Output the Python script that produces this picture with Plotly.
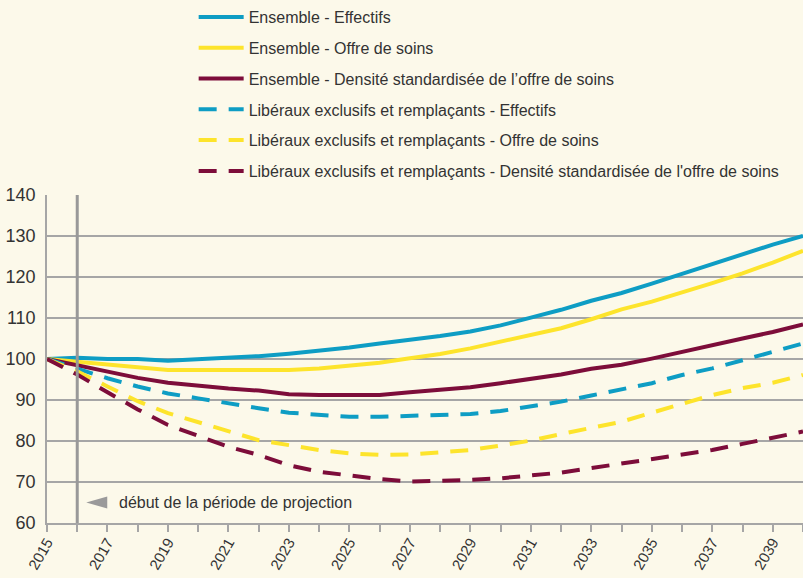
import plotly.graph_objects as go

years = list(range(2015, 2041))

ens_effectifs = [100, 100.3, 100.0, 100.0, 99.6, 99.9, 100.3, 100.7, 101.3, 102.0, 102.8, 103.8, 104.6,
                 105.6, 106.7, 108.2, 110.1, 112.0, 114.2, 116.1, 118.4, 120.8, 123.2, 125.6, 127.9, 130.0]
ens_offre = [100, 99.3, 98.5, 98.0, 97.3, 97.3, 97.3, 97.3, 97.3, 97.7, 98.3, 99.1, 100.2,
             101.2, 102.6, 104.3, 105.9, 107.5, 109.7, 112.1, 114.0, 116.2, 118.5, 120.9, 123.5, 126.4]
ens_densite = [100, 98.5, 96.9, 95.4, 94.2, 93.4, 92.8, 92.3, 91.4, 91.2, 91.2, 91.2, 91.9,
               92.5, 93.1, 94.1, 95.2, 96.2, 97.6, 98.6, 100.1, 101.8, 103.5, 105.0, 106.6, 108.4]
lib_effectifs = [100, 97.7, 95.3, 93.3, 91.6, 90.4, 89.1, 88.0, 86.9, 86.3, 85.9, 85.9, 86.1,
                 86.2, 86.6, 87.3, 88.4, 89.6, 91.1, 92.7, 94.1, 96.1, 97.7, 99.7, 101.7, 103.8]
lib_offre = [100, 97.0, 93.3, 89.7, 86.8, 84.6, 82.3, 80.2, 79.0, 77.8, 77.0, 76.6, 76.7,
             77.2, 77.8, 78.9, 80.1, 81.7, 83.3, 84.7, 86.9, 89.0, 91.2, 92.9, 94.2, 96.1]
lib_densite = [100, 96.2, 91.9, 87.7, 83.9, 81.2, 78.6, 76.6, 74.1, 72.5, 71.5, 70.7, 70.1,
               70.2, 70.5, 70.9, 71.5, 72.3, 73.4, 74.5, 75.5, 76.6, 77.8, 79.3, 80.7, 82.3]

names = [
    "Ensemble - Effectifs",
    "Ensemble - Offre de soins",
    "Ensemble - Densité standardisée de l’offre de soins",
    "Libéraux exclusifs et remplaçants - Effectifs",
    "Libéraux exclusifs et remplaçants - Offre de soins",
    "Libéraux exclusifs et remplaçants - Densité standardisée de l'offre de soins",
]
series = [ens_effectifs, ens_offre, ens_densite, lib_effectifs, lib_offre, lib_densite]
colors = ["#0e9dc4", "#fde42c", "#7d0d3a", "#0e9dc4", "#fde42c", "#7d0d3a"]
dashes = ["solid", "solid", "solid", "18px,12px", "18px,12px", "18px,12px"]

projection_start = 2016
annotation_y = 65
annotation_text = "début de la période de projection"

BG = "#fcf9ea"
GRID = "#a6a6a6"
FONT = "Liberation Sans, Arial, sans-serif"

fig = go.Figure()
for i, (n, s, c, d) in enumerate(zip(names, series, colors, dashes)):
    fig.add_trace(go.Scatter(
        x=years, y=s, name=n, mode="lines",
        line=dict(color=c, width=4, dash=d),
        legendgroup=f"g{i}",
    ))

fig.add_shape(type="line", xref="x", yref="y", x0=projection_start, x1=projection_start,
              y0=60, y1=140, line=dict(color="#999999", width=3), layer="above")

# grey arrow head pointing to the projection start line
fig.add_shape(type="path", xref="x", yref="y", xsizemode="pixel", ysizemode="pixel",
              xanchor=projection_start, yanchor=annotation_y,
              path="M 9,0 L 30,6 L 30,-6 Z",
              fillcolor="#9a9a9a", line=dict(width=0), layer="above")
fig.add_annotation(x=projection_start + 1.3, y=annotation_y, xref="x", yref="y", text=annotation_text,
                   showarrow=False, xanchor="left", yanchor="middle",
                   font=dict(size=16, color="#333333", family=FONT))

fig.update_layout(
    width=803, height=578,
    paper_bgcolor=BG, plot_bgcolor=BG,
    margin=dict(l=47, r=0, t=195, b=55, autoexpand=False),
    font=dict(family=FONT, size=16, color="#333333"),
    showlegend=True,
    legend=dict(
        x=0.194, y=1.014, xref="paper", yref="container", xanchor="left", yanchor="top",
        bgcolor="rgba(0,0,0,0)", font=dict(size=16, color="#333333", family=FONT),
        tracegroupgap=7, itemwidth=45,
    ),
    xaxis=dict(
        range=[2015, 2040], tick0=2015, dtick=2, showgrid=False, zeroline=False,
        showline=True, linecolor=GRID, linewidth=1.5, automargin=False,
        ticks="outside", ticklen=7, tickcolor=GRID, tickwidth=1.5,
        minor=dict(dtick=1, tick0=2015, ticks="outside", ticklen=7, tickcolor=GRID, tickwidth=1.5, showgrid=False),
        tickangle=-60, tickfont=dict(size=15, color="#333333"), ticklabelstandoff=-4,
    ),
    yaxis=dict(
        range=[60, 140], dtick=10, showgrid=True, gridcolor=GRID, gridwidth=1.5,
        zeroline=False, showline=True, linecolor=GRID, linewidth=1.5, automargin=False,
        ticks="", tickfont=dict(size=18, color="#333333"), ticklabelstandoff=6,
    ),
)

fig.write_html("out.html", config={"displayModeBar": False},
               post_script="document.body.style.margin='0';document.body.style.overflow='hidden';")
